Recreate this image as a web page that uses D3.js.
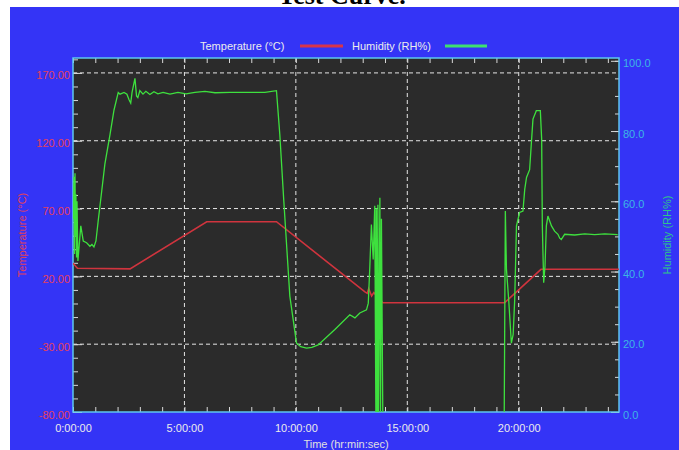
<!DOCTYPE html>
<html>
<head>
<meta charset="utf-8">
<script src="https://cdn.jsdelivr.net/npm/d3@7"></script>
<style>
  body { margin: 0; background: #fff; }
  svg { display: block; font-family: "Liberation Sans", Arial, sans-serif; }
</style>
</head>
<body>
<div id="chart"></div>
<script>
// time in hours
var tempTime  = [0, 0.2, 2.56, 6.0, 9.13, 13.1, 13.2, 13.27, 13.4, 13.5, 13.9, 19.37, 21.0, 24.5];
var tempValue = [29.7, 26, 25.5, 60.3, 60.3, 8.5, 7.5, 11, 5.5, 8, 0.5, 0.6, 25.2, 25.2];

// null = no reading (line broken)
var humTime = [0.02, 0.045, 0.07, 0.09, 0.11, 0.13, 0.16, 0.18, 0.22, 0.35, 0.46, 0.61, 0.76, 0.85, 0.94, 1.03,
  1.13, 1.29, 1.43, 1.66, 1.84, 2.03, 2.11, 2.29, 2.42, 2.51, 2.59, 2.65, 2.78, 2.85, 2.91, 3.0, 3.14, 3.27,
  3.45, 3.63, 3.81, 4.04, 4.35, 4.71, 5.07, 5.47, 5.92, 6.37, 7.04, 7.94, 8.61, 9.13, 9.28, 9.46, 9.73, 10.03,
  10.22, 10.48, 10.72, 11.0, 11.75, 12.42, 12.65, 12.87, 13.17, 13.25, 13.32, 13.39, 13.47, 13.54, 13.59, 13.61,
  13.65, 13.68, 13.71, 13.77, 13.8, 13.84, 13.9, 16.0, 19.35, 19.4, 19.45, 19.55, 19.67, 19.75, 19.82, 19.9,
  20.04, 20.19, 20.27, 20.35, 20.49, 20.57, 20.64, 20.79, 20.97, 21.03, 21.06, 21.12, 21.18, 21.24, 21.31, 21.47,
  21.61, 21.76, 21.84, 21.91, 22.06, 22.51, 22.96, 23.41, 23.86, 24.44];
var humValue = [55, 67, 45, 68, 50, 62, 44, 60, 43, 53, 48.7, 48.2, 47.2, 47.7, 47, 48.7,
  54.4, 63, 70.6, 79, 86, 91, 90.5, 91, 90.5, 89, 88, 91, 95, 90, 89.5, 91.5, 90.5, 91.3,
  90.4, 91.2, 90.6, 91, 90.5, 91, 90.6, 91, 91.3, 90.9, 91, 91, 91, 91.5, 79, 60, 33, 19.6,
  18.6, 18.2, 18.4, 19.1, 23.5, 27.7, 26.8, 28.2, 29.1, 31, 41.5, 53.4, 43.4, 58.7, 0, 58,
  0, 59, 0, 61, 0, 55, 0, null, 0, 57.2, 40.6, 32, 19.6, 22, 32, 53,
  56.8, 57.2, 63.4, 66.8, 69, 76.8, 83.4, 85.8, 85.8, 77.7, 53, 36.8, 41.5, 53, 55.8, 53,
  51.5, 50.6, 49.5, 49.1, 50.6, 50.4, 50.7, 50.5, 50.7, 50.5];

var timeTicks = [0, 5, 10, 15, 20];
var tempTicks = [-80, -30, 20, 70, 120, 170];
var humTicks  = [0, 20, 40, 60, 80, 100];

var W = 679, H = 450;
var pLeft = 73, pRight = 619, pTop = 58, pBottom = 412;

var svg = d3.select("#chart").append("svg")
  .attr("width", W).attr("height", H);

// title, mostly hidden behind the blue panel
svg.append("text")
  .attr("x", 342).attr("y", 4)
  .attr("text-anchor", "middle")
  .style("font-family", "'Liberation Serif', 'Times New Roman', serif")
  .style("font-weight", "bold")
  .style("font-size", "26px")
  .style("fill", "#000")
  .text("Test Curve.");

svg.append("rect")
  .attr("x", 10).attr("y", 7).attr("width", W - 10).attr("height", H - 7)
  .attr("fill", "#3434f6");

svg.append("rect")
  .attr("x", pLeft).attr("y", pTop).attr("width", pRight - pLeft).attr("height", pBottom - pTop)
  .attr("fill", "#2b2b2b");

var x = d3.scaleLinear().domain([0, 24.5]).range([pLeft, pRight]);
var yT = d3.scaleLinear().domain([-80, 181]).range([pBottom, pTop]);
var yH = d3.scaleLinear().domain([0, 100.8]).range([pBottom, pTop]);

// dashed grid
svg.append("g").selectAll("line")
  .data(tempTicks.slice(1))
  .enter().append("line")
    .attr("x1", pLeft).attr("x2", pRight)
    .attr("y1", function(d) { return yT(d); })
    .attr("y2", function(d) { return yT(d); })
    .attr("stroke", "#e6e6e6").attr("stroke-dasharray", "4,3");
svg.append("g").selectAll("line")
  .data(timeTicks.slice(1))
  .enter().append("line")
    .attr("y1", pTop).attr("y2", pBottom)
    .attr("x1", function(d) { return x(d); })
    .attr("x2", function(d) { return x(d); })
    .attr("stroke", "#e6e6e6").attr("stroke-dasharray", "4,3");

function ticksOnly(g) {
  g.select(".domain").remove();
  g.selectAll(".tick line").attr("stroke", "#d8d8d8");
}

var hours = d3.range(0, 25, 1);

svg.append("g").attr("transform", "translate(0," + pBottom + ")")
  .call(d3.axisBottom(x).tickValues(hours).tickSize(-5).tickFormat(""))
  .call(ticksOnly);
svg.append("g").attr("transform", "translate(0," + pTop + ")")
  .call(d3.axisTop(x).tickValues(hours).tickSize(-5).tickFormat(""))
  .call(ticksOnly);

var xLab = svg.append("g").attr("transform", "translate(0," + pBottom + ")")
  .call(d3.axisBottom(x).tickValues(timeTicks).tickSize(0).tickPadding(12)
    .tickFormat(function(d) { return d + ":00:00"; }));
xLab.select(".domain").remove();
xLab.selectAll("text").style("font-size", "11px").style("fill", "#ececec").style("font-family", null);

// plain hyphen for negatives, like the original
var f2 = function(d) { return d3.format(".2f")(d).replace("\u2212", "-"); };

// left axis (temperature)
svg.append("g").attr("transform", "translate(" + pLeft + ",0)")
  .call(d3.axisLeft(yT).tickValues(d3.range(-80, 181, 10)).tickSize(-5).tickFormat(""))
  .call(ticksOnly);
var yLeft = svg.append("g").attr("transform", "translate(" + pLeft + ",0)")
  .call(d3.axisLeft(yT).tickValues(tempTicks).tickSize(-9).tickPadding(3).tickFormat(f2))
  .call(ticksOnly);
yLeft.selectAll("text").attr("dy", "0.55em").style("font-size", "11px").style("fill", "#e4405e").style("font-family", null);

// right axis (humidity)
svg.append("g").attr("transform", "translate(" + pRight + ",0)")
  .call(d3.axisRight(yH).tickValues(d3.range(0, 101, 5)).tickSize(-4).tickFormat(""))
  .call(ticksOnly);
var yRight = svg.append("g").attr("transform", "translate(" + pRight + ",0)")
  .call(d3.axisRight(yH).tickValues(humTicks).tickSize(-8).tickPadding(4).tickFormat(d3.format(".1f")))
  .call(ticksOnly);
yRight.selectAll("text").attr("dy", "0.55em").style("font-size", "11px").style("fill", "#3cb6e4").style("font-family", null);

// plot border
svg.append("rect")
  .attr("x", pLeft).attr("y", pTop).attr("width", pRight - pLeft).attr("height", pBottom - pTop)
  .attr("fill", "none").attr("stroke", "#5ec6f0").attr("stroke-width", 1.5);

svg.append("clipPath").attr("id", "plotclip")
  .append("rect").attr("x", pLeft).attr("y", pTop).attr("width", pRight - pLeft).attr("height", pBottom - pTop);

var tempData = tempTime.map(function(t, i) { return { t: t, v: tempValue[i] }; });
var humData = humTime.map(function(t, i) { return { t: t, v: humValue[i] }; });

var lines = svg.append("g").attr("clip-path", "url(#plotclip)");

lines.append("path")
  .datum(tempData)
  .attr("fill", "none")
  .attr("stroke", "#d0343e")
  .attr("stroke-width", 1.6)
  .attr("d", d3.line()
    .x(function(d) { return x(d.t); })
    .y(function(d) { return yT(d.v); }));

lines.append("path")
  .datum(humData)
  .attr("fill", "none")
  .attr("stroke", "#3ee03e")
  .attr("stroke-width", 1.3)
  .attr("d", d3.line()
    .defined(function(d) { return d.v !== null; })
    .x(function(d) { return x(d.t); })
    .y(function(d) { return yH(d.v); }));

// axis titles
svg.append("text")
  .attr("transform", "translate(22," + ((pTop + pBottom) / 2) + ") rotate(-90)")
  .attr("text-anchor", "middle").attr("dy", "0.35em")
  .style("font-size", "11px").style("fill", "#e0405a")
  .text("Temperature (°C)");
svg.append("text")
  .attr("transform", "translate(667," + ((pTop + pBottom) / 2) + ") rotate(-90)")
  .attr("text-anchor", "middle").attr("dy", "0.35em")
  .style("font-size", "11px").style("fill", "#2ec48a")
  .text("Humidity (RH%)");
svg.append("text")
  .attr("x", (pLeft + pRight) / 2).attr("y", 448)
  .attr("text-anchor", "middle")
  .style("font-size", "11px").style("fill", "#e0e0e0")
  .text("Time (hr:min:sec)");

// legend
svg.append("text").attr("x", 200).attr("y", 50).text("Temperature (°C)")
  .style("font-size", "11px").style("fill", "#ececec");
svg.append("line").attr("x1", 300).attr("x2", 343).attr("y1", 46).attr("y2", 46)
  .attr("stroke", "#d8344a").attr("stroke-width", 3);
svg.append("text").attr("x", 352).attr("y", 50).text("Humidity (RH%)")
  .style("font-size", "11px").style("fill", "#ececec");
svg.append("line").attr("x1", 445).attr("x2", 487).attr("y1", 46).attr("y2", 46)
  .attr("stroke", "#3ee070").attr("stroke-width", 3);
</script>
</body>
</html>
